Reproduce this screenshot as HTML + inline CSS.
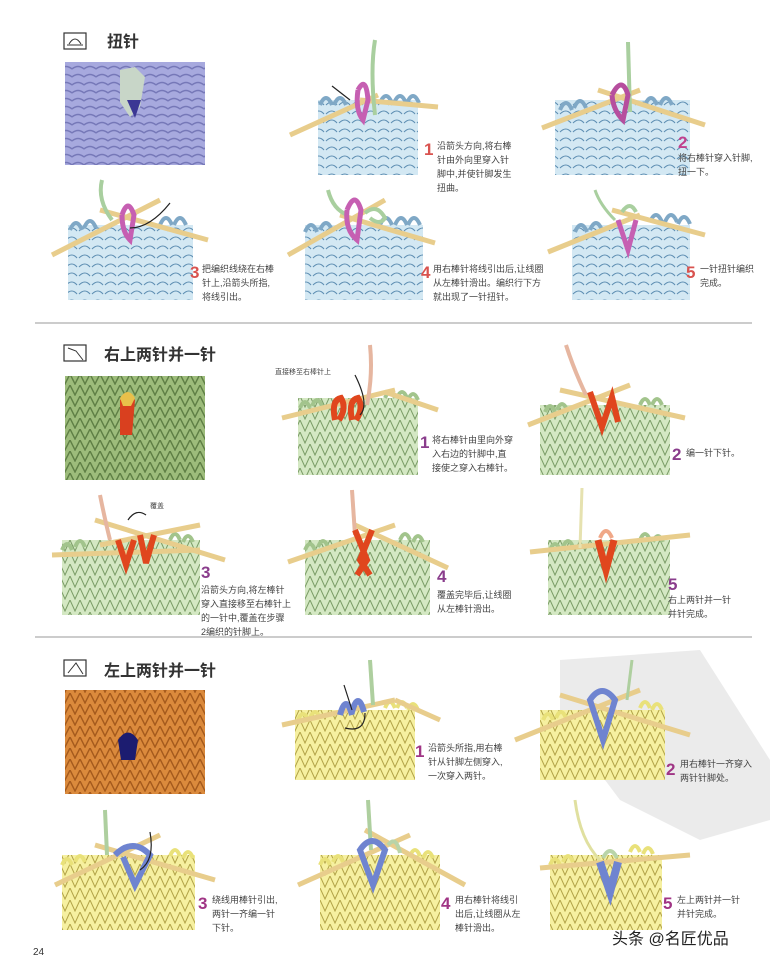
<!DOCTYPE html>
<html><head><meta charset="utf-8"><style>
html,body{margin:0;padding:0;background:#fff;width:770px;height:961px;overflow:hidden}
svg{display:block}
text{font-family:"Liberation Sans","Noto Sans CJK SC",sans-serif}
.t{font-size:9px;fill:#444}
.n{font-size:17px;font-weight:bold}
.h{font-size:16px;fill:#333;font-weight:bold}
</style></head><body>
<svg width="770" height="961" viewBox="0 0 770 961" xmlns="http://www.w3.org/2000/svg">
<defs>
<pattern id="pb" width="13" height="9" patternUnits="userSpaceOnUse"><rect width="13" height="9" fill="#d3e8f3"/><path d="M1 6 q6 -6 11 0" stroke="#5f8fb3" fill="none" stroke-width="1.1"/></pattern>
<pattern id="pg" width="10" height="12" patternUnits="userSpaceOnUse"><rect width="10" height="12" fill="#d4e8c3"/><path d="M0 0 L5 11 L10 0" stroke="#7a9c66" fill="none" stroke-width="1"/></pattern>
<pattern id="py" width="10" height="12" patternUnits="userSpaceOnUse"><rect width="10" height="12" fill="#f6f0a0"/><path d="M0 0 L5 11 L10 0" stroke="#b2a347" fill="none" stroke-width="1"/></pattern>
<pattern id="sw1" width="12" height="8" patternUnits="userSpaceOnUse"><rect width="12" height="8" fill="#a7a9de"/><path d="M0 5 q6 -5 12 0" stroke="#7678b8" fill="none" stroke-width="1.5"/></pattern>
<pattern id="sw2" width="10" height="11" patternUnits="userSpaceOnUse"><rect width="10" height="11" fill="#9dbc7b"/><path d="M0 0 L5 10 L10 0" stroke="#5f7f45" fill="none" stroke-width="1.4"/></pattern>
<pattern id="sw3" width="10" height="11" patternUnits="userSpaceOnUse"><rect width="10" height="11" fill="#db8a3c"/><path d="M0 0 L5 10 L10 0" stroke="#a55a1d" fill="none" stroke-width="1.4"/></pattern>
</defs>

<!-- watermark -->
<path d="M560 660 L700 650 L770 760 L770 820 L700 840 L620 800 L560 720 Z" fill="#e6e6e6" opacity="0.8"/>

<!-- Section 1 -->
<rect x="64" y="33" width="22" height="16" fill="none" stroke="#333" stroke-width="1.2"/>
<path d="M69 44 q6 -10 12 0" stroke="#333" fill="none"/><line x1="67" y1="45" x2="83" y2="45" stroke="#333"/>
<text x="107" y="47" class="h">扭针</text>
<rect x="65" y="62" width="140" height="103" fill="url(#sw1)"/>
<path d="M120 70 l15 -3 l10 10 l-5 30 l-10 10 l-10 -15 z" fill="#c8d6c8"/><path d="M127 100 l8 18 l6 -18 z" fill="#3b3794"/>

<!-- blocks sec1 -->
<g>
<rect x="318" y="100" width="100" height="75" fill="url(#pb)"/>
<path d="M320 105 q6 -14 12 0 M334 105 q6 -14 12 0 M380 103 q6 -14 12 0 M394 103 q6 -14 12 0 M407 103 q6 -14 12 0" stroke="#7fa8c6" stroke-width="4" fill="none"/>
<line x1="290" y1="135" x2="378" y2="95" stroke="#e8cd8c" stroke-width="5"/>
<line x1="360" y1="100" x2="438" y2="107" stroke="#e8cd8c" stroke-width="5"/>
<path d="M375 40 q-5 30 0 75" stroke="#a9cf9f" stroke-width="4" fill="none"/>
<path d="M358 90 q8 -15 10 10 l-5 20 q-8 -10 -5 -30" stroke="#c65fb2" stroke-width="5" fill="none"/>
<path d="M350 100 l-18 -14" stroke="#222" stroke-width="1.2"/>
</g>
<text x="424" y="155" class="n" fill="#d9534f">1</text>
<text x="437" y="149" class="t">沿箭头方向,将右棒</text><text x="437" y="163" class="t">针由外向里穿入针</text><text x="437" y="177" class="t">脚中,并使针脚发生</text><text x="437" y="191" class="t">扭曲。</text>

<g>
<rect x="555" y="100" width="135" height="75" fill="url(#pb)"/>
<path d="M560 110 q6 -14 12 0 M574 108 q6 -14 12 0 M645 105 q6 -14 12 0 M660 105 q6 -14 12 0" stroke="#7fa8c6" stroke-width="4" fill="none"/>
<line x1="542" y1="128" x2="640" y2="90" stroke="#e8cd8c" stroke-width="5"/>
<line x1="598" y1="90" x2="705" y2="125" stroke="#e8cd8c" stroke-width="5"/>
<path d="M628 42 l2 70" stroke="#a9cf9f" stroke-width="4" fill="none"/>
<path d="M612 95 q10 -20 16 0 l-5 25 q-10 -10 -11 -25" stroke="#b64e9e" stroke-width="5" fill="none"/>
</g>
<text x="678" y="148" class="n" fill="#c0408e">2</text>
<text x="678" y="161" class="t">将右棒针穿入针脚,</text><text x="678" y="175" class="t">扭一下。</text>

<g>
<rect x="68" y="225" width="125" height="75" fill="url(#pb)"/>
<path d="M70 230 q6 -14 12 0 M84 228 q6 -14 12 0 M160 225 q6 -14 12 0 M174 225 q6 -14 12 0" stroke="#7fa8c6" stroke-width="4" fill="none"/>
<line x1="52" y1="255" x2="160" y2="200" stroke="#e8cd8c" stroke-width="5"/>
<line x1="100" y1="210" x2="208" y2="240" stroke="#e8cd8c" stroke-width="5"/>
<path d="M102 180 q-5 20 10 40" stroke="#a9cf9f" stroke-width="4" fill="none"/>
<path d="M122 215 q6 -18 12 0 l-4 25 q-8 -8 -8 -25" stroke="#c65fb2" stroke-width="5" fill="none"/>
<path d="M130 228 q20 0 40 -25" stroke="#222" stroke-width="1.2" fill="none"/>
</g>
<text x="190" y="278" class="n" fill="#d9534f">3</text>
<text x="202" y="272" class="t">把编织线绕在右棒</text><text x="202" y="286" class="t">针上,沿箭头所指,</text><text x="202" y="300" class="t">将线引出。</text>

<g>
<rect x="305" y="225" width="118" height="75" fill="url(#pb)"/>
<path d="M305 232 q6 -14 12 0 M320 230 q6 -14 12 0 M380 225 q6 -14 12 0 M395 225 q6 -14 12 0 M408 225 q6 -14 12 0" stroke="#7fa8c6" stroke-width="4" fill="none"/>
<line x1="288" y1="255" x2="385" y2="200" stroke="#e8cd8c" stroke-width="5"/>
<line x1="340" y1="215" x2="435" y2="243" stroke="#e8cd8c" stroke-width="5"/>
<path d="M328 190 q5 20 20 25" stroke="#a9cf9f" stroke-width="4" fill="none"/>
<path d="M347 210 q8 -20 14 0 l-4 30 q-12 -10 -10 -30" stroke="#c65fb2" stroke-width="5" fill="none"/>
<path d="M365 213 q12 -10 20 5 q-5 8 -15 0" stroke="#a9cf9f" stroke-width="4" fill="none"/>
</g>
<text x="421" y="278" class="n" fill="#d9534f">4</text>
<text x="433" y="272" class="t">用右棒针将线引出后,让线圈</text><text x="433" y="286" class="t">从左棒针滑出。编织行下方</text><text x="433" y="300" class="t">就出现了一针扭针。</text>

<g>
<rect x="572" y="225" width="118" height="75" fill="url(#pb)"/>
<path d="M575 232 q6 -14 12 0 M590 230 q6 -14 12 0 M650 222 q6 -14 12 0 M665 222 q6 -14 12 0 M678 224 q6 -14 12 0" stroke="#7fa8c6" stroke-width="4" fill="none"/>
<line x1="548" y1="252" x2="640" y2="215" stroke="#e8cd8c" stroke-width="5"/>
<line x1="612" y1="210" x2="705" y2="235" stroke="#e8cd8c" stroke-width="5"/>
<path d="M595 190 q5 15 20 30" stroke="#a9cf9f" stroke-width="3" fill="none"/>
<path d="M618 220 l10 30 l8 -30" stroke="#c65fb2" stroke-width="5" fill="none"/>
<path d="M622 212 q8 -12 14 0" stroke="#a9cf9f" stroke-width="4" fill="none"/>
</g>
<text x="686" y="278" class="n" fill="#d9534f">5</text>
<text x="700" y="272" class="t">一针扭针编织</text><text x="700" y="286" class="t">完成。</text>

<line x1="35" y1="323" x2="752" y2="323" stroke="#999" stroke-width="1"/>

<!-- Section 2 -->
<rect x="64" y="345" width="22" height="16" fill="none" stroke="#333" stroke-width="1.2"/>
<path d="M68 348 l8 3 l7 9" stroke="#333" fill="none"/>
<text x="104" y="360" class="h">右上两针并一针</text>
<rect x="65" y="376" width="140" height="104" fill="url(#sw2)"/>
<path d="M120 400 q8 -10 15 0 l-3 35 l-12 0 z" fill="#d9401f"/><path d="M120 398 q8 -12 15 0 l-4 8 l-8 0z" fill="#e9c04a"/>

<g>
<rect x="298" y="398" width="120" height="77" fill="url(#pg)"/>
<path d="M300 408 q5 -12 10 0 M312 406 q5 -12 10 0 M385 398 q5 -12 10 0 M397 398 q5 -12 10 0 M408 400 q5 -12 10 0" stroke="#a2c48c" stroke-width="4" fill="none"/>
<line x1="282" y1="418" x2="395" y2="390" stroke="#e8cd8c" stroke-width="5"/>
<line x1="385" y1="392" x2="438" y2="410" stroke="#e8cd8c" stroke-width="5"/>
<path d="M370 345 q3 30 -3 60" stroke="#e6b6a0" stroke-width="4" fill="none"/>
<path d="M335 420 q-4 -20 6 -22 q6 10 -2 22 M352 420 q-4 -20 6 -22 q6 10 -2 22" stroke="#e0461e" stroke-width="6" fill="none"/>
<path d="M360 415 q10 -10 -5 -40" stroke="#222" stroke-width="1.2" fill="none"/>
</g>
<text x="275" y="374" style="font-size:7px;fill:#444">直接移至右棒针上</text>
<text x="420" y="448" class="n" fill="#8a3d8c">1</text>
<text x="432" y="443" class="t">将右棒针由里向外穿</text><text x="432" y="457" class="t">入右边的针脚中,直</text><text x="432" y="471" class="t">接使之穿入右棒针。</text>

<g>
<rect x="540" y="405" width="130" height="70" fill="url(#pg)"/>
<path d="M545 412 q5 -12 10 0 M557 410 q5 -12 10 0 M640 405 q5 -12 10 0 M652 405 q5 -12 10 0" stroke="#a2c48c" stroke-width="4" fill="none"/>
<line x1="528" y1="425" x2="630" y2="385" stroke="#e8cd8c" stroke-width="5"/>
<line x1="560" y1="390" x2="685" y2="418" stroke="#e8cd8c" stroke-width="5"/>
<path d="M566 345 q8 25 20 50" stroke="#e6b6a0" stroke-width="4" fill="none"/>
<path d="M590 392 l12 35 l10 -30 l6 25" stroke="#e0461e" stroke-width="6" fill="none"/>
</g>
<text x="672" y="460" class="n" fill="#8a3d8c">2</text>
<text x="686" y="456" class="t">编一针下针。</text>

<g>
<rect x="62" y="540" width="138" height="75" fill="url(#pg)"/>
<path d="M62 550 q5 -12 10 0 M75 547 q5 -12 10 0 M170 540 q5 -12 10 0 M183 542 q5 -12 10 0" stroke="#a2c48c" stroke-width="4" fill="none"/>
<line x1="52" y1="555" x2="200" y2="550" stroke="#e8cd8c" stroke-width="5"/>
<line x1="95" y1="520" x2="225" y2="560" stroke="#e8cd8c" stroke-width="5"/>
<line x1="100" y1="545" x2="200" y2="525" stroke="#e8cd8c" stroke-width="5"/>
<path d="M100 495 q5 25 10 45" stroke="#e6b6a0" stroke-width="4" fill="none"/>
<path d="M118 540 l8 25 l8 -25 M140 535 l6 28 l8 -28" stroke="#e0461e" stroke-width="6" fill="none"/>
<path d="M128 520 q8 -12 18 -5" stroke="#222" stroke-width="1.2" fill="none"/>
</g>
<text x="150" y="508" style="font-size:7px;fill:#444">覆盖</text>
<text x="201" y="578" class="n" fill="#8a3d8c">3</text>
<text x="201" y="593" class="t">沿箭头方向,将左棒针</text><text x="201" y="607" class="t">穿入直接移至右棒针上</text><text x="201" y="621" class="t">的一针中,覆盖在步骤</text><text x="201" y="635" class="t">2编织的针脚上。</text>

<g>
<rect x="305" y="540" width="125" height="75" fill="url(#pg)"/>
<path d="M305 550 q5 -12 10 0 M318 547 q5 -12 10 0 M400 540 q5 -12 10 0 M413 542 q5 -12 10 0" stroke="#a2c48c" stroke-width="4" fill="none"/>
<line x1="288" y1="562" x2="395" y2="525" stroke="#e8cd8c" stroke-width="5"/>
<line x1="355" y1="525" x2="448" y2="568" stroke="#e8cd8c" stroke-width="5"/>
<path d="M352 490 l3 45" stroke="#e6b6a0" stroke-width="4" fill="none"/>
<path d="M355 530 l12 30 l-10 15 M372 530 l-12 30 l10 15" stroke="#e0461e" stroke-width="6" fill="none"/>
</g>
<text x="437" y="582" class="n" fill="#8a3d8c">4</text>
<text x="437" y="598" class="t">覆盖完毕后,让线圈</text><text x="437" y="612" class="t">从左棒针滑出。</text>

<g>
<rect x="548" y="540" width="122" height="75" fill="url(#pg)"/>
<path d="M550 550 q5 -12 10 0 M563 547 q5 -12 10 0 M640 540 q5 -12 10 0 M653 542 q5 -12 10 0" stroke="#a2c48c" stroke-width="4" fill="none"/>
<line x1="530" y1="552" x2="690" y2="535" stroke="#e8cd8c" stroke-width="5"/>
<path d="M582 488 l-2 60" stroke="#e6e2b0" stroke-width="3" fill="none"/>
<path d="M598 540 l8 30 l8 -30" stroke="#e0461e" stroke-width="7" fill="none"/>
<path d="M600 538 q6 -14 12 0" stroke="#f0a888" stroke-width="4" fill="none"/>
</g>
<text x="668" y="590" class="n" fill="#8a3d8c">5</text>
<text x="668" y="603" class="t">右上两针并一针</text><text x="668" y="617" class="t">并针完成。</text>

<line x1="35" y1="637" x2="752" y2="637" stroke="#999" stroke-width="1"/>

<!-- Section 3 -->
<rect x="64" y="660" width="22" height="16" fill="none" stroke="#333" stroke-width="1.2"/>
<path d="M68 673 l8 -10 l7 11" stroke="#333" fill="none"/>
<text x="104" y="676" class="h">左上两针并一针</text>
<rect x="65" y="690" width="140" height="104" fill="url(#sw3)"/>
<path d="M118 740 q10 -15 20 0 l-3 20 l-14 0 z" fill="#1c1c70"/>

<g>
<rect x="295" y="710" width="120" height="70" fill="url(#py)"/>
<path d="M298 720 q5 -12 10 0 M310 718 q5 -12 10 0 M385 708 q5 -12 10 0 M397 708 q5 -12 10 0 M408 710 q5 -12 10 0" stroke="#e9e17a" stroke-width="4" fill="none"/>
<line x1="282" y1="725" x2="395" y2="700" stroke="#e8cd8c" stroke-width="5"/>
<line x1="395" y1="700" x2="440" y2="720" stroke="#e8cd8c" stroke-width="5"/>
<path d="M370 660 l3 45" stroke="#aecf9f" stroke-width="4" fill="none"/>
<path d="M340 715 q6 -22 12 0 M352 712 q6 -22 12 0" stroke="#6f84d0" stroke-width="6" fill="none"/>
<path d="M345 728 q20 5 20 -15 M352 710 l-8 -25" stroke="#222" stroke-width="1.2" fill="none"/>
</g>
<text x="415" y="757" class="n" fill="#a03585">1</text>
<text x="428" y="751" class="t">沿箭头所指,用右棒</text><text x="428" y="765" class="t">针从针脚左侧穿入,</text><text x="428" y="779" class="t">一次穿入两针。</text>

<g>
<rect x="540" y="710" width="125" height="70" fill="url(#py)"/>
<path d="M543 720 q5 -12 10 0 M556 718 q5 -12 10 0 M640 708 q5 -12 10 0 M652 710 q5 -12 10 0" stroke="#e9e17a" stroke-width="4" fill="none"/>
<line x1="515" y1="740" x2="640" y2="690" stroke="#e8cd8c" stroke-width="5"/>
<line x1="560" y1="695" x2="690" y2="735" stroke="#e8cd8c" stroke-width="5"/>
<path d="M632 660 l-5 40" stroke="#aecf9f" stroke-width="3" fill="none"/>
<path d="M590 700 q12 -18 25 0 l-12 40 z" stroke="#6f84d0" stroke-width="6" fill="none"/>
</g>
<text x="666" y="775" class="n" fill="#a03585">2</text>
<text x="680" y="767" class="t">用右棒针一齐穿入</text><text x="680" y="781" class="t">两针针脚处。</text>

<g>
<rect x="62" y="855" width="133" height="75" fill="url(#py)"/>
<path d="M62 865 q5 -12 10 0 M75 862 q5 -12 10 0 M170 856 q5 -12 10 0 M183 858 q5 -12 10 0" stroke="#e9e17a" stroke-width="4" fill="none"/>
<line x1="55" y1="885" x2="160" y2="835" stroke="#e8cd8c" stroke-width="5"/>
<line x1="95" y1="845" x2="215" y2="880" stroke="#e8cd8c" stroke-width="5"/>
<path d="M105 810 l2 45" stroke="#aecf9f" stroke-width="4" fill="none"/>
<path d="M115 855 q18 -18 35 0 l-15 30 l-12 -28" stroke="#6f84d0" stroke-width="6" fill="none"/>
<path d="M140 870 q15 -10 10 -38" stroke="#222" stroke-width="1.2" fill="none"/>
</g>
<text x="198" y="909" class="n" fill="#a03585">3</text>
<text x="212" y="903" class="t">绕线用棒针引出,</text><text x="212" y="917" class="t">两针一齐编一针</text><text x="212" y="931" class="t">下针。</text>

<g>
<rect x="320" y="855" width="120" height="75" fill="url(#py)"/>
<path d="M320 865 q5 -12 10 0 M333 862 q5 -12 10 0 M410 856 q5 -12 10 0 M423 858 q5 -12 10 0" stroke="#e9e17a" stroke-width="4" fill="none"/>
<line x1="298" y1="885" x2="410" y2="835" stroke="#e8cd8c" stroke-width="5"/>
<line x1="365" y1="830" x2="465" y2="885" stroke="#e8cd8c" stroke-width="5"/>
<path d="M368 800 l3 50" stroke="#aecf9f" stroke-width="4" fill="none"/>
<path d="M360 850 q12 -18 25 0 l-12 35 z" stroke="#6f84d0" stroke-width="6" fill="none"/>
<path d="M388 845 q8 -10 12 8" stroke="#b9d4a8" stroke-width="4" fill="none"/>
</g>
<text x="441" y="909" class="n" fill="#a03585">4</text>
<text x="455" y="903" class="t">用右棒针将线引</text><text x="455" y="917" class="t">出后,让线圈从左</text><text x="455" y="931" class="t">棒针滑出。</text>

<g>
<rect x="550" y="855" width="112" height="75" fill="url(#py)"/>
<path d="M550 865 q5 -12 10 0 M563 862 q5 -12 10 0 M630 852 q5 -12 10 0 M643 854 q5 -12 10 0" stroke="#e9e17a" stroke-width="4" fill="none"/>
<line x1="540" y1="868" x2="690" y2="855" stroke="#e8cd8c" stroke-width="5"/>
<path d="M575 800 q5 40 25 60" stroke="#e0e0a0" stroke-width="3" fill="none"/>
<path d="M600 862 l10 30 l8 -30" stroke="#6f84d0" stroke-width="8" fill="none"/>
<path d="M603 858 q7 -14 14 0" stroke="#b9d4a8" stroke-width="4" fill="none"/>
</g>
<text x="663" y="909" class="n" fill="#a03585">5</text>
<text x="677" y="903" class="t">左上两针并一针</text><text x="677" y="917" class="t">并针完成。</text>

<text x="33" y="955" style="font-size:10px;fill:#333">24</text>
<text x="612" y="944" style="font-size:16px;fill:#222">头条 @名匠优品</text>
</svg>
</body></html>
